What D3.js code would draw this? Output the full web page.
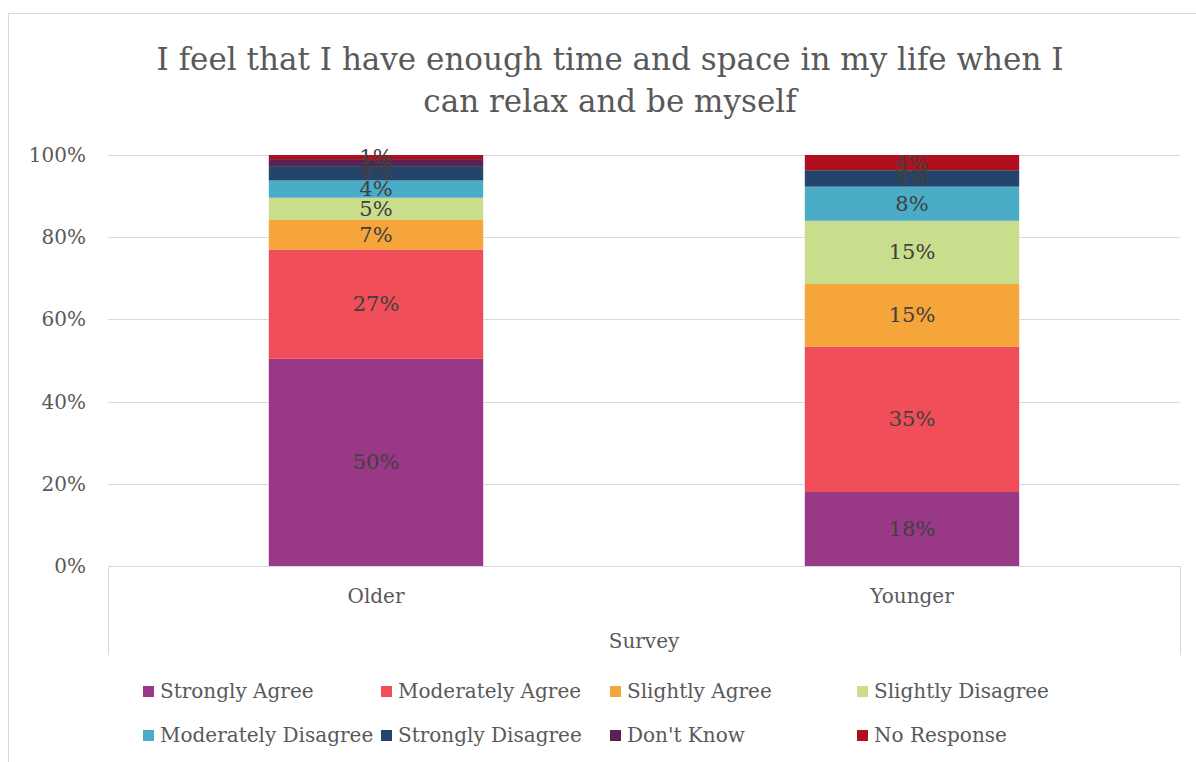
<!DOCTYPE html>
<html>
<head>
<meta charset="utf-8">
<script src="https://cdn.jsdelivr.net/npm/d3@7"></script>
<style>
  body { margin: 0; background: #fff; }
  text { font-family: "DejaVu Serif", "Liberation Serif", serif; }
</style>
</head>
<body>
<div id="canvas"></div>
<script>
var groups = ['Older', 'Younger'];
var responses = ['Strongly Agree', 'Moderately Agree', 'Slightly Agree', 'Slightly Disagree',
    'Moderately Disagree', 'Strongly Disagree', "Don't Know", 'No Response'];
var olderValues = [50.4, 26.6, 7.3, 5.3, 4.2, 3.5, 1.7, 1.0];
var youngerValues = [18.0, 35.4, 15.2, 15.4, 8.3, 4.0, 0, 3.7];
var yTicks = [0, 20, 40, 60, 80, 100];
var colors = ['#993886', '#F04E58', '#F5A53A', '#C8DE8C', '#4AACC6', '#23456B', '#5B2251', '#B0101C'];

var svgWidth = 1196;
var svgHeight = 762;
var textColor = '#595959';

var svg = d3.select('#canvas')
    .append('svg')
    .attr('width', svgWidth)
    .attr('height', svgHeight)
    .style('display', 'block');

// chart border
svg.append('rect')
    .attr('x', 8.5).attr('y', 13.5)
    .attr('width', 1300).attr('height', 900)
    .attr('fill', 'none')
    .attr('stroke', '#d9d9d9');

// title
var title = svg.append('text')
    .attr('x', 610)
    .attr('text-anchor', 'middle')
    .attr('fill', textColor)
    .attr('font-size', '31px');
title.append('tspan').attr('x', 610).attr('y', 70).text('I feel that I have enough time and space in my life when I');
title.append('tspan').attr('x', 610).attr('y', 112).text('can relax and be myself');

var x = d3.scaleBand().domain(groups).range([108, 1180]).paddingInner(0.6).paddingOuter(0.3);
var y = d3.scaleLinear().domain([0, 100]).range([566, 155]);

// gridlines
svg.append('g')
    .selectAll('line')
    .data(yTicks.slice(1))
    .enter().append('line')
    .attr('x1', 108).attr('x2', 1180)
    .attr('y1', function (d) { return Math.round(y(d)) + 0.5; })
    .attr('y2', function (d) { return Math.round(y(d)) + 0.5; })
    .attr('stroke', '#d9d9d9');

// y axis labels
var yAxis = svg.append('g')
    .attr('transform', 'translate(100,0)')
    .call(d3.axisLeft(y).tickValues(yTicks).tickFormat(function (d) { return d + '%'; }).tickSize(0).tickPadding(14));
yAxis.select('.domain').remove();
yAxis.selectAll('text')
    .attr('fill', textColor)
    .attr('font-size', '20px')
    .style('font-family', '"DejaVu Serif", serif');

// stacked data
var rows = groups.map(function (g, i) {
    var vals = i === 0 ? olderValues : youngerValues;
    var row = {group: g};
    responses.forEach(function (r, j) { row[r] = vals[j]; });
    return row;
});
var series = d3.stack().keys(responses)(rows);

var layers = svg.append('g')
    .selectAll('g')
    .data(series)
    .enter().append('g')
    .attr('fill', function (d, i) { return colors[i]; });

layers.selectAll('rect')
    .data(function (d) { return d; })
    .enter().append('rect')
    .attr('x', function (d) { return x(d.data.group); })
    .attr('width', x.bandwidth())
    .attr('y', function (d) { return y(d[1]); })
    .attr('height', function (d) { return y(d[0]) - y(d[1]); });

layers.selectAll('text')
    .data(function (d) { return d; })
    .enter().append('text')
    .attr('x', function (d) { return x(d.data.group) + x.bandwidth() / 2; })
    .attr('y', function (d) { return (y(d[0]) + y(d[1])) / 2 + 7; })
    .attr('text-anchor', 'middle')
    .attr('fill', '#404040')
    .attr('font-size', '21px')
    .text(function (d) { return Math.round(d[1] - d[0]) + '%'; });

// category axis box
svg.append('path')
    .attr('d', 'M108.5,655V566.5H1180.5V655')
    .attr('fill', 'none')
    .attr('stroke', '#d9d9d9');

svg.append('g')
    .selectAll('text')
    .data(groups)
    .enter().append('text')
    .attr('x', function (d) { return x(d) + x.bandwidth() / 2; })
    .attr('y', 603)
    .attr('text-anchor', 'middle')
    .attr('fill', textColor)
    .attr('font-size', '20px')
    .text(function (d) { return d; });

svg.append('text')
    .attr('x', 644).attr('y', 648)
    .attr('text-anchor', 'middle')
    .attr('fill', textColor)
    .attr('font-size', '20px')
    .text('Survey');

// legend
var legendX = [143, 381, 610, 857];
var legend = svg.append('g')
    .selectAll('g')
    .data(responses)
    .enter().append('g')
    .attr('transform', function (d, i) {
        return 'translate(' + legendX[i % 4] + ',' + (i < 4 ? 686 : 730) + ')';
    });
legend.append('rect')
    .attr('width', 11).attr('height', 11)
    .attr('fill', function (d, i) { return colors[i]; });
legend.append('text')
    .attr('x', 17).attr('y', 12)
    .attr('fill', textColor)
    .attr('font-size', '20px')
    .text(function (d) { return d; });
</script>
</body>
</html>
